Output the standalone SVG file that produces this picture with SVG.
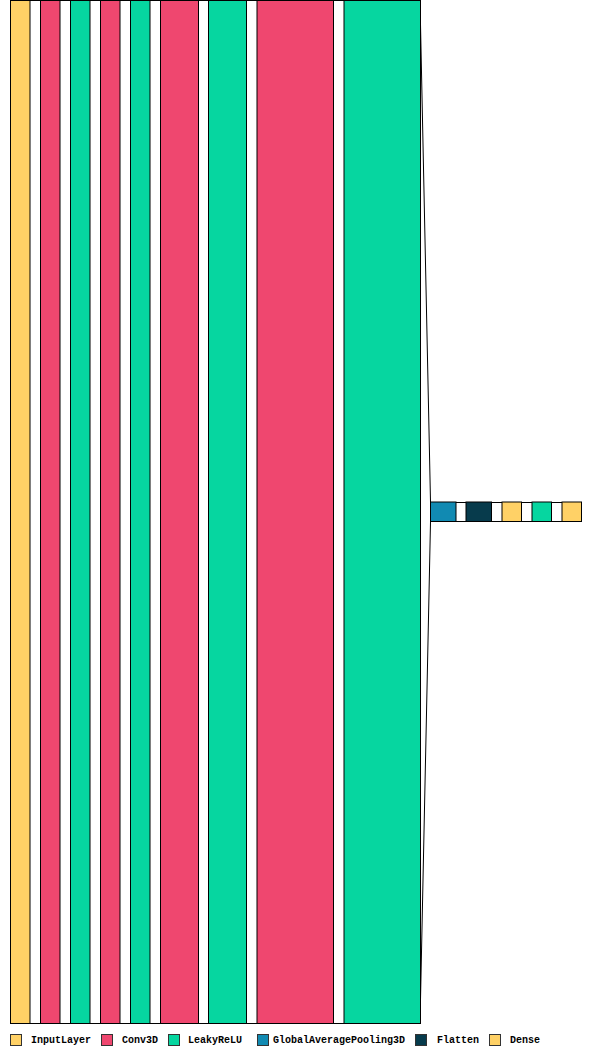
<svg xmlns="http://www.w3.org/2000/svg" width="592" height="1055" viewBox="0 0 592 1055">
<style>
.b{stroke:#000;stroke-width:1}
.y{fill:#FFD166}.p{fill:#EF476F}.g{fill:#06D6A0}.bl{fill:#118AB2}.d{fill:#073B4C}
.c{stroke:#000;stroke-width:1;fill:none}
.lg{stroke:#333;stroke-width:1}
text{font-family:"Liberation Mono","DejaVu Sans Mono",monospace;font-weight:bold;font-size:10px;fill:#000}
</style>
<rect width="592" height="1055" fill="#fff"/>
<g id="connectors">
<path class="c" d="M30,0.5H40M60,0.5H70M90,0.5H100M120,0.5H130M150,0.5H160M198,0.5H208M246,0.5H257M333,0.5H344"/>
<path class="c" d="M30,1023.5H40M60,1023.5H70M90,1023.5H100M120,1023.5H130M150,1023.5H160M198,1023.5H208M246,1023.5H257M333,1023.5H344"/>
<path class="c" d="M420,0.5L430.5,502M420,1023.5L430.5,522"/>
<path class="c" d="M456,502.5H466M492,502.5H502M522,502.5H532M552,502.5H562"/>
<path class="c" d="M456,521.5H466M492,521.5H502M522,521.5H532M552,521.5H562"/>
</g>
<g id="input"><rect class="b y" x="10.5" y="0.5" width="19.5" height="1023"/></g>
<g id="conv1"><rect class="b p" x="40.5" y="0.5" width="19.5" height="1023"/></g>
<g id="lrelu1"><rect class="b g" x="70.5" y="0.5" width="19.5" height="1023"/></g>
<g id="conv2"><rect class="b p" x="100.5" y="0.5" width="19.5" height="1023"/></g>
<g id="lrelu2"><rect class="b g" x="130.5" y="0.5" width="19.5" height="1023"/></g>
<g id="conv3"><rect class="b p" x="160.5" y="0.5" width="38" height="1023"/></g>
<g id="lrelu3"><rect class="b g" x="208.5" y="0.5" width="38" height="1023"/></g>
<g id="conv4"><rect class="b p" x="257" y="0.5" width="76.5" height="1023"/></g>
<g id="lrelu4"><rect class="b g" x="344" y="0.5" width="76.5" height="1023"/></g>
<g id="gap"><rect class="b bl" x="430.5" y="502" width="25.5" height="19.5"/></g>
<g id="flatten"><rect class="b d" x="466" y="502" width="25.5" height="19.5"/></g>
<g id="dense1"><rect class="b y" x="502" y="502" width="19.5" height="19.5"/></g>
<g id="lrelu5"><rect class="b g" x="532" y="502" width="19.5" height="19.5"/></g>
<g id="dense2"><rect class="b y" x="562" y="502" width="19.5" height="19.5"/></g>
<g id="legend">
<rect class="lg y" x="10.5" y="1034.5" width="11" height="11"/><text x="31" y="1043">InputLayer</text>
<rect class="lg p" x="101.5" y="1034.5" width="11" height="11"/><text x="122" y="1043">Conv3D</text>
<rect class="lg g" x="168.5" y="1034.5" width="11" height="11"/><text x="188" y="1043">LeakyReLU</text>
<rect class="lg bl" x="257.5" y="1034.5" width="11" height="11"/><text x="273" y="1043">GlobalAveragePooling3D</text>
<rect class="lg d" x="415.5" y="1034.5" width="11" height="11"/><text x="437" y="1043">Flatten</text>
<rect class="lg y" x="489.5" y="1034.5" width="11" height="11"/><text x="510" y="1043">Dense</text>
</g>
</svg>
